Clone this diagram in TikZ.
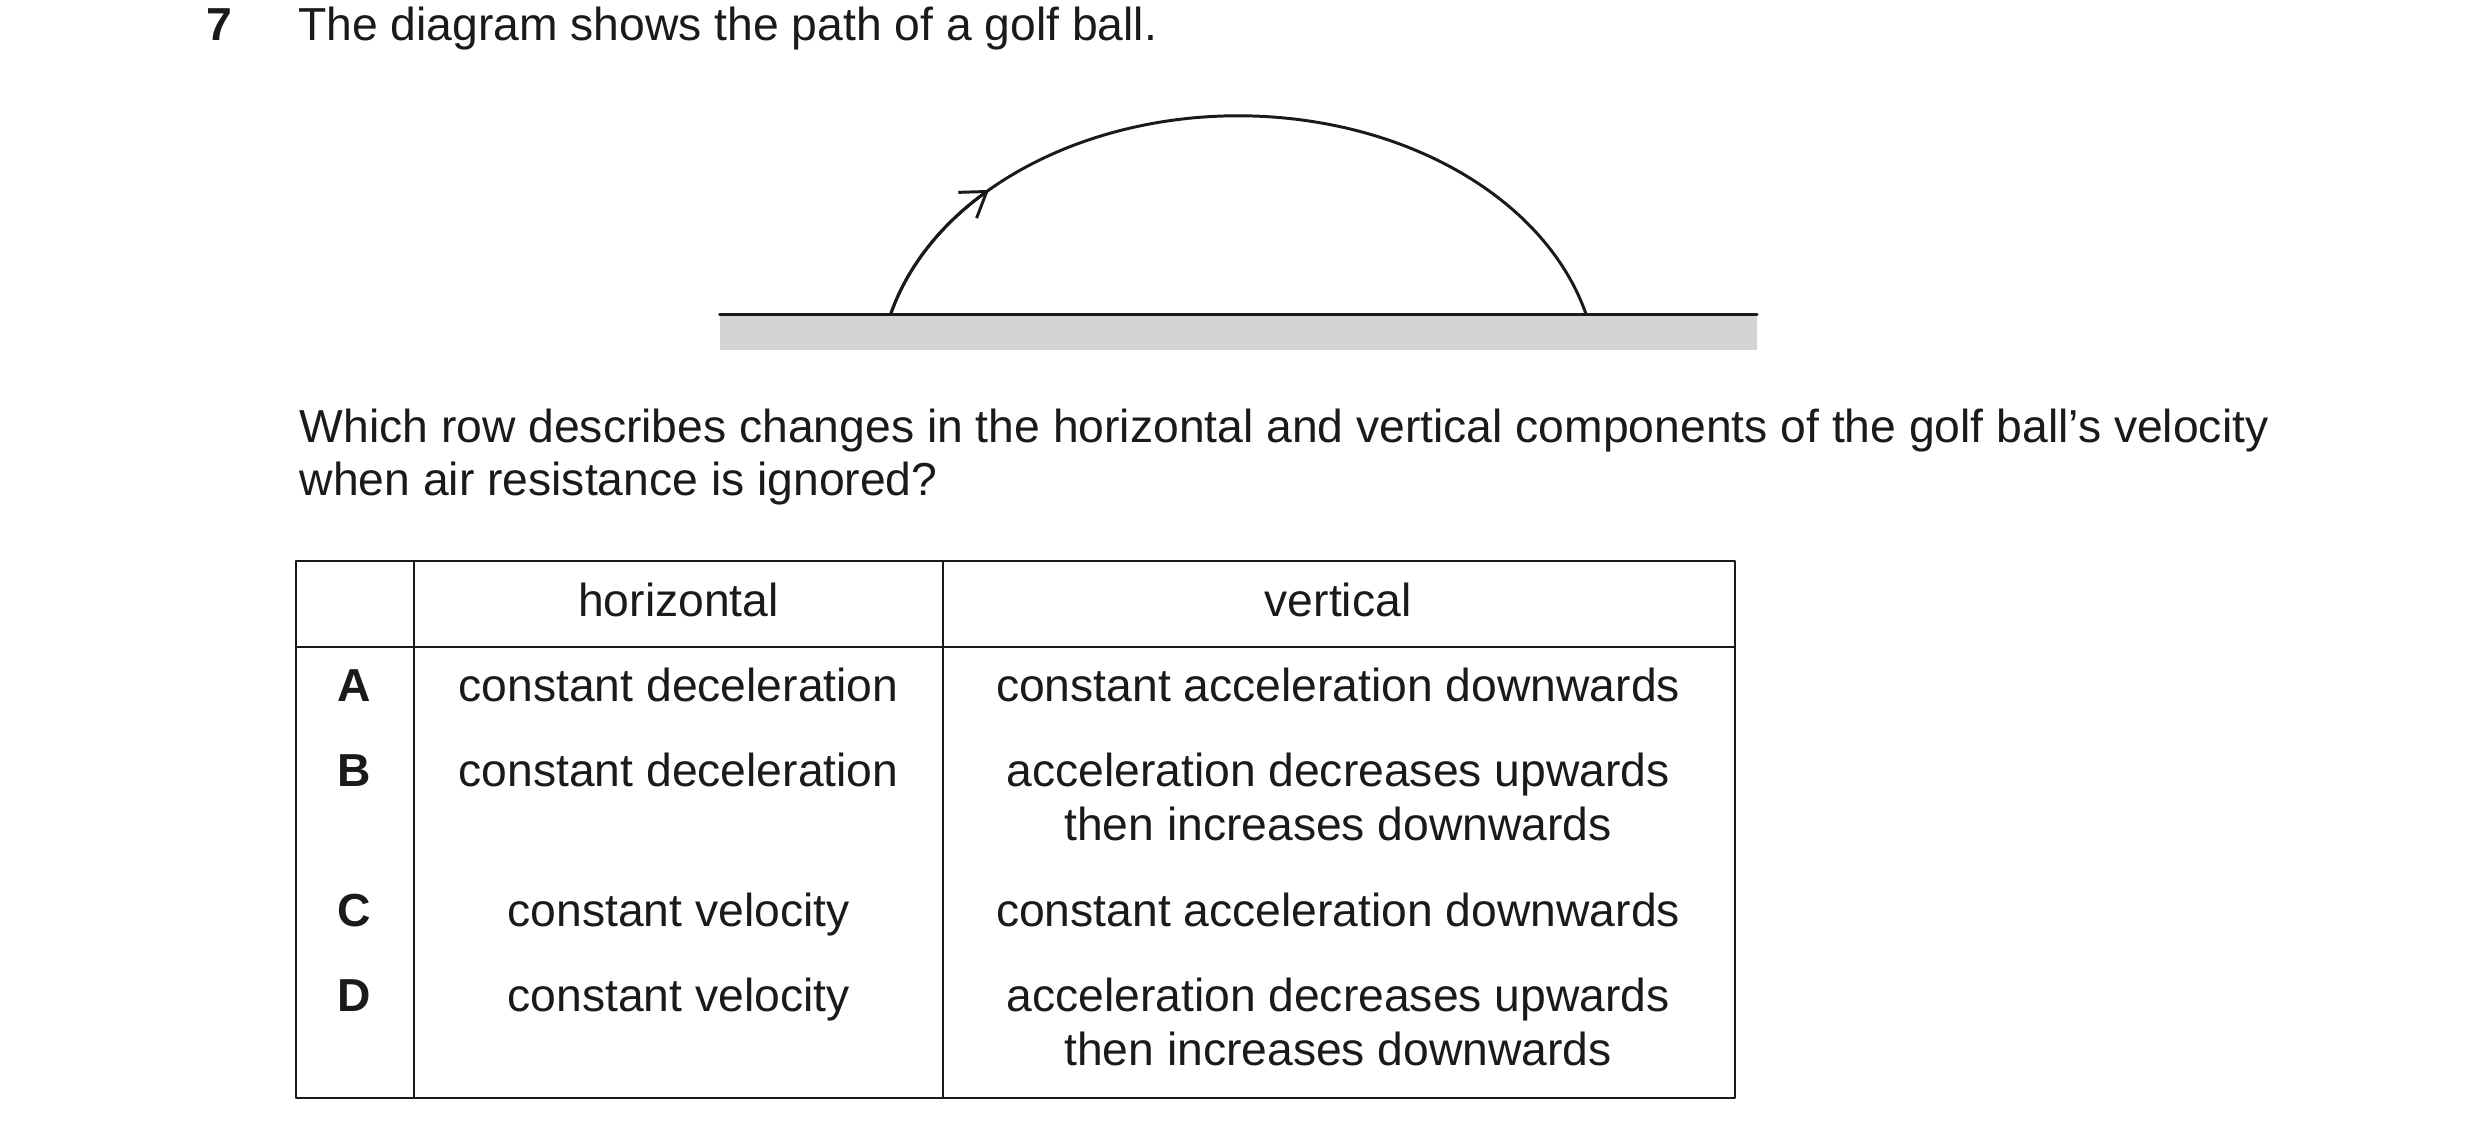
\documentclass[tikz,border=0pt]{standalone}
\usepackage{fontspec}
\setmainfont{Liberation Sans}
\usetikzlibrary{arrows.meta,positioning}
\definecolor{ink}{HTML}{1A1A1A}
\definecolor{groundgrey}{HTML}{D4D4D6}
\tikzset{
  every picture/.style={line cap=round, line join=round},
  txt/.style={font=\fontsize{11.7pt}{13.6pt}\selectfont, text=ink, inner sep=0pt, text height=8.4pt, text depth=2.4pt},
  lefttxt/.style={txt, anchor=west},
  cell/.style={txt, anchor=center, align=center},
  rowlabel/.style={txt, font=\fontsize{11.7pt}{13.6pt}\selectfont\bfseries},
  grid/.style={draw=ink, line width=0.5pt},
  path/.style={draw=ink, line width=0.75pt}
}
\begin{document}
\begin{tikzpicture}[x=0.4pt,y=0.4pt]
  \useasboundingbox (0,0) rectangle (1568,720);

  % Question text
  \node[rowlabel] (qnum) at (139,702) {7};
  \node[lefttxt] (intro) at (188,702) {The diagram shows the path of a golf ball.};

  % Ground and path
  \fill[groundgrey] (455,499) rectangle (1111,521);
  \draw[path] (455,521) -- (1111,521);
  \coordinate (launch) at (563,521);
  \draw[path, -{Straight Barb[length=6pt,width=8pt]}] (launch) arc[start angle=165.7, end angle=134, x radius=227, y radius=167];
  \draw[path] (launch) arc[start angle=165.7, end angle=14.3, x radius=227, y radius=167];

  \node[lefttxt] (ask1) at (189,448) {Which row describes changes in the horizontal and vertical components of the golf ball’s velocity};
  \node[lefttxt] (ask2) at (189,414) {when air resistance is ignored?};

  % Table
  \draw[grid] (187,26) rectangle (1097,365);
  \draw[grid] (187,311) -- (1097,311);
  \draw[grid] (262,26) -- (262,365);
  \draw[grid] (596,26) -- (596,365);

  \node[cell] (hhead) at (429,338) {horizontal};
  \node[cell] (vhead) at (846,338) {vertical};

  \node[rowlabel] (rA) at (224,284) {A};
  \node[cell] (hA) at (429,284) {constant deceleration};
  \node[cell] (vA) at (846,284) {constant acceleration downwards};

  \node[rowlabel] (rB) at (224,230) {B};
  \node[cell] (hB) at (429,230) {constant deceleration};
  \node[cell] (vB) at (846,230) {acceleration decreases upwards};
  \node[cell] (vB2) at (846,196) {then increases downwards};

  \node[rowlabel] (rC) at (224,142) {C};
  \node[cell] (hC) at (429,142) {constant velocity};
  \node[cell] (vC) at (846,142) {constant acceleration downwards};

  \node[rowlabel] (rD) at (224,88) {D};
  \node[cell] (hD) at (429,88) {constant velocity};
  \node[cell] (vD) at (846,88) {acceleration decreases upwards};
  \node[cell] (vD2) at (846,54) {then increases downwards};
\end{tikzpicture}
\end{document}
